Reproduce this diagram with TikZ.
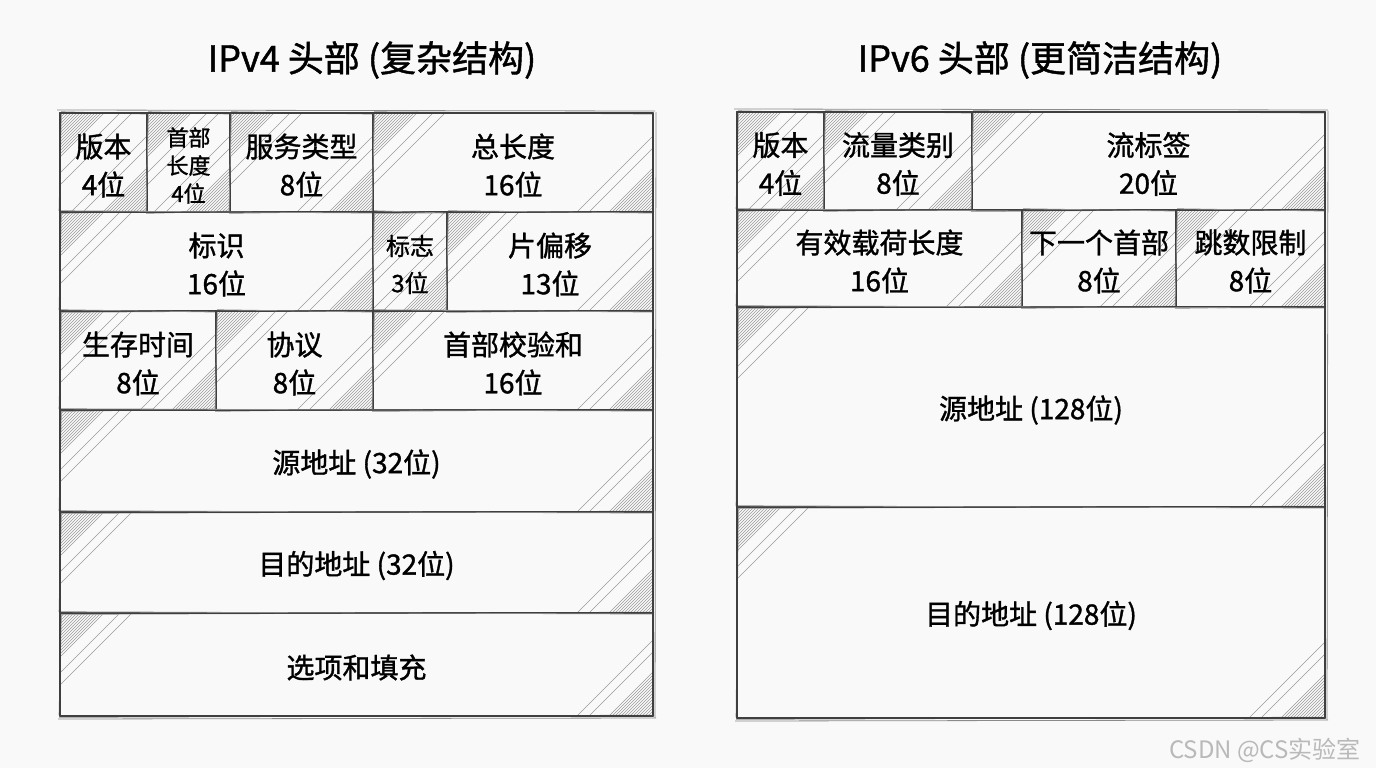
\documentclass[tikz,border=0pt]{standalone}
\usepackage{fontspec}
\setmainfont{Noto Sans CJK SC}[BoldFont={Noto Sans CJK SC}, BoldFeatures={FakeBold=1.2}]
\definecolor{bg}{HTML}{F9F9F9}
\definecolor{ink}{HTML}{2A2A2A}
\tikzset{
  hatchline/.style={draw=gray!80, line width=0.55pt},
  cellline/.style={draw=ink!90, line width=2.2pt, line join=round},
  sketchline/.style={draw=ink!55, line width=0.8pt},
  outerline/.style={draw=ink!90, line width=2.6pt, line join=round},
  celltext/.style={font=\fontsize{28}{38}\selectfont\bfseries, align=center, text=black, inner sep=0pt},
  smalltext/.style={font=\fontsize{22}{28}\selectfont\bfseries, align=center, text=black, inner sep=0pt},
  midtext/.style={font=\fontsize{24}{37}\selectfont\bfseries, align=center, text=black, inner sep=0pt},
  titletext/.style={font=\fontsize{36}{42}\selectfont\bfseries, text=black, inner sep=0pt},
  marktext/.style={font=\fontsize{24}{27}\selectfont, text=gray!55, inner sep=0pt}
}
\newcommand\hatchcell[4]{%
  \begin{scope}
    \clip (#1,#2) rectangle (#3,#4);
    \foreach \d in {5,8,...,44} {
      \draw[hatchline] (#1,#2+\d) -- (#1+\d,#2);
      \draw[hatchline] (#3-\d,#4) -- (#3,#4-\d);
    }
    \draw[hatchline] (#1,#2+60) -- (#1+60,#2);
    \draw[hatchline] (#1,#2+72) -- (#1+72,#2);
    \draw[hatchline] (#3-64,#4) -- (#3,#4-64);
    \draw[hatchline] (#3-76,#4) -- (#3,#4-76);
  \end{scope}}
\newcommand\fieldcell[7]{% name, style, x1, y1, x2, y2, text
  \hatchcell{#3}{#4}{#5}{#6}
  \draw[cellline] (#3,#4) rectangle (#5,#6);
  \draw[sketchline] (#3+1.2,#4-1.2) -- (#5-0.8,#4+1);
  \draw[sketchline] (#3-0.8,#6+1.3) -- (#5+1.2,#6-0.8);
  \draw[sketchline] (#3+1.3,#4+0.8) -- (#3-0.9,#6-1);
  \node[#2] (#1) at ({(#3+#5)/2},{(#4+#6)/2+3}) {#7};
}
\begin{document}
\begin{tikzpicture}[x=1pt,y=-1pt]
\fill[bg] (0,0) rectangle (1376,768);
\useasboundingbox (0,0) rectangle (1376,768);

% Titles
\node[titletext] (t4) at (372,60) {IPv4 头部 (复杂结构)};
\node[titletext] (t6) at (1040,60) {IPv6 头部 (更简洁结构)};

% ---------- IPv4 ----------
\fieldcell{v4ver}{celltext}{60}{113}{147}{212}{版本\\4位}
\fieldcell{v4ihl}{smalltext}{147}{113}{230}{212}{首部\\长度\\4位}
\fieldcell{v4tos}{celltext}{230}{113}{373}{212}{服务类型\\8位}
\fieldcell{v4len}{celltext}{373}{113}{653}{212}{总长度\\16位}
\fieldcell{v4id}{celltext}{60}{212}{373}{311}{标识\\16位}
\fieldcell{v4flag}{midtext}{373}{212}{447}{311}{标志\\3位}
\fieldcell{v4off}{celltext}{447}{212}{653}{311}{片偏移\\13位}
\fieldcell{v4ttl}{celltext}{60}{311}{216}{410}{生存时间\\8位}
\fieldcell{v4proto}{celltext}{216}{311}{373}{410}{协议\\8位}
\fieldcell{v4csum}{celltext}{373}{311}{653}{410}{首部校验和\\16位}
\fieldcell{v4src}{celltext}{60}{410}{653}{512}{源地址 (32位)}
\fieldcell{v4dst}{celltext}{60}{512}{653}{613}{目的地址 (32位)}
\fieldcell{v4opt}{celltext}{60}{613}{653}{716}{选项和填充}
\draw[outerline] (60,113) rectangle (653,716);
\draw[sketchline] (57,110) -- (655,111);
\draw[sketchline] (656,112) -- (655,718);
\draw[sketchline] (58,719) -- (656,718);

% ---------- IPv6 ----------
\fieldcell{v6ver}{celltext}{737}{112}{824}{210}{版本\\4位}
\fieldcell{v6tc}{celltext}{824}{112}{972}{210}{流量类别\\8位}
\fieldcell{v6fl}{celltext}{972}{112}{1325}{210}{流标签\\20位}
\fieldcell{v6plen}{celltext}{737}{210}{1022}{307}{有效载荷长度\\16位}
\fieldcell{v6nh}{celltext}{1022}{210}{1176}{307}{下一个首部\\8位}
\fieldcell{v6hl}{celltext}{1176}{210}{1325}{307}{跳数限制\\8位}
\fieldcell{v6src}{celltext}{737}{307}{1325}{507}{源地址 (128位)}
\fieldcell{v6dst}{celltext}{737}{507}{1325}{718}{目的地址 (128位)}
\draw[outerline] (737,112) rectangle (1325,718);
\draw[sketchline] (734,109) -- (1328,110);
\draw[sketchline] (1328,111) -- (1327,720);
\draw[sketchline] (735,721) -- (1328,720);

% watermark
\node[marktext] (wm) at (1265,750) {CSDN @CS实验室};
\end{tikzpicture}
\end{document}
